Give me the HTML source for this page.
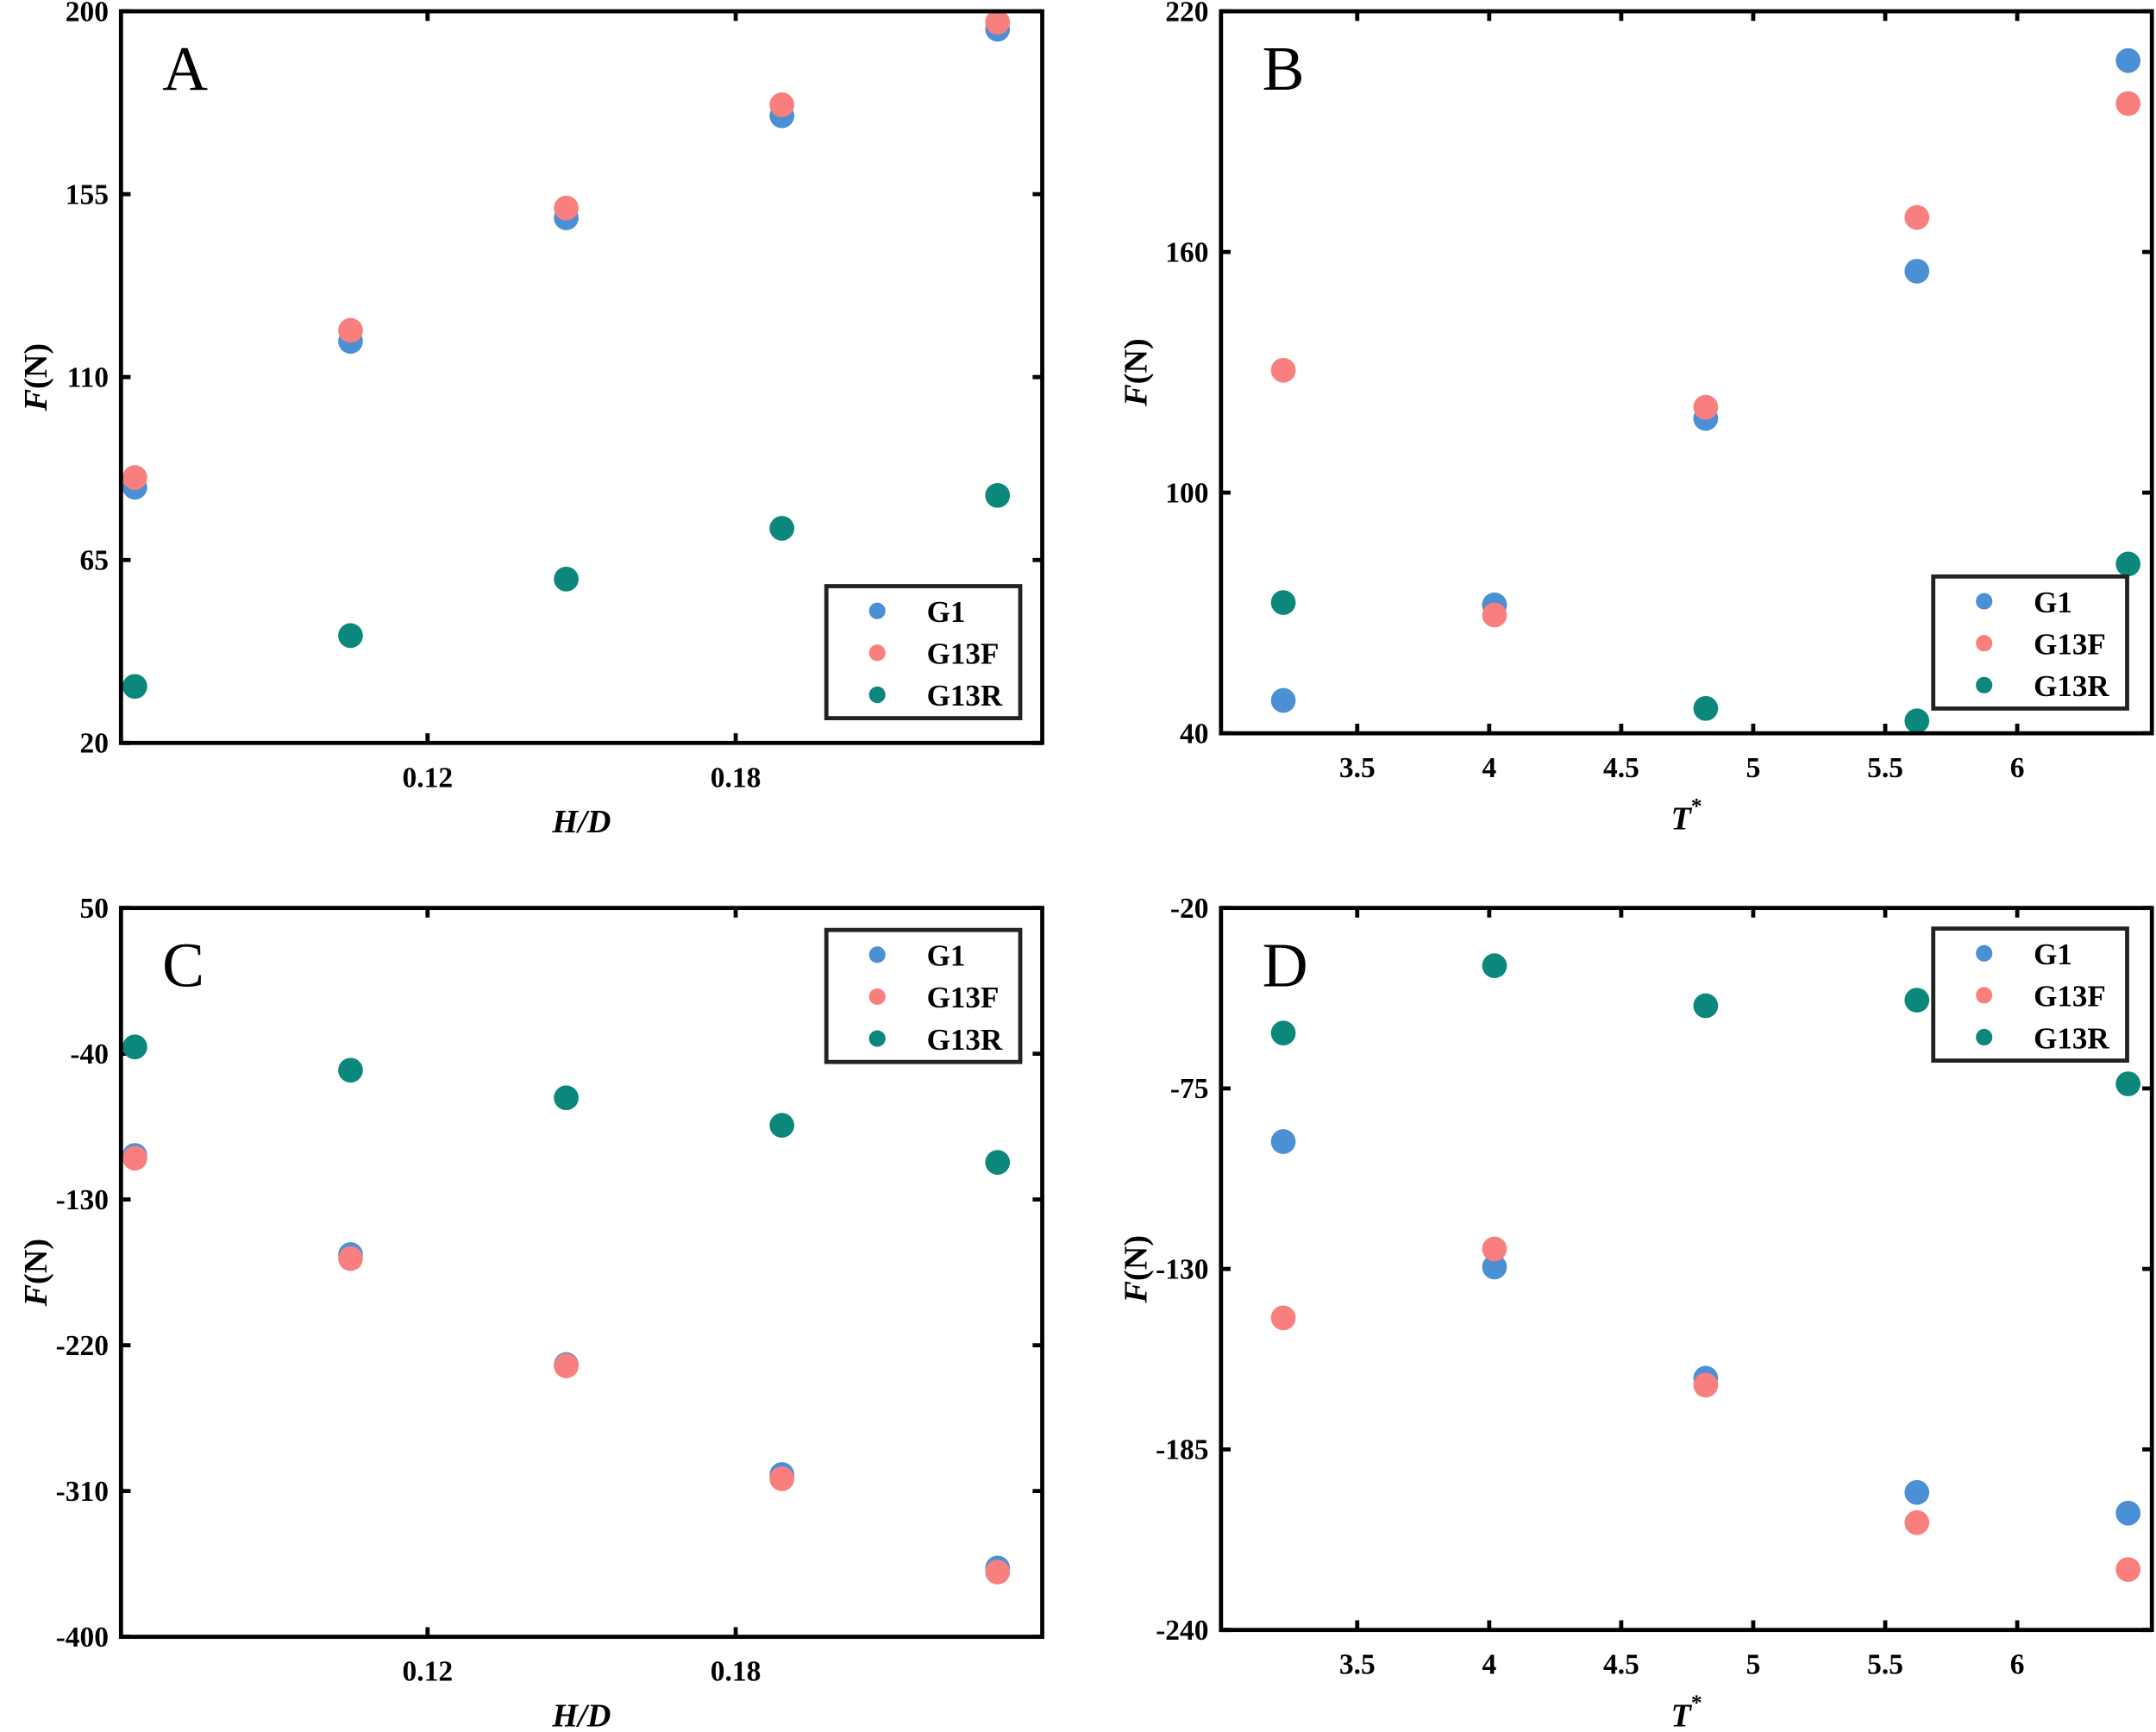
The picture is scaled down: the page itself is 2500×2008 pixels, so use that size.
<!DOCTYPE html>
<html><head><meta charset="utf-8"><style>
html,body{margin:0;padding:0;background:#fff;}
svg{display:block;font-family:"Liberation Serif",serif;}
</style></head><body>
<svg id="fig" width="2500" height="2008" viewBox="0 0 1568 1259" xmlns="http://www.w3.org/2000/svg"></svg>
<script>
// ---- data ----
const seriesNames = ["G1","G13F","G13R"];
const aX = [0.063,0.105,0.147,0.189,0.231];
const aG1 = [82.9,118.8,149.2,174.3,195.6];
const aG13F = [85.3,121.5,151.6,177.0,197.3];
const aG13R = [33.9,46.4,60.3,72.8,80.9];
const bX = [3.22,4.02,4.82,5.62,6.42];
const bG1 = [48.2,71.9,118.5,155.2,207.7];
const bG13F = [130.5,69.5,121.3,168.6,197.0];
const bG13R = [72.6,72.0,46.2,43.1,82.2];
const cX = [0.063,0.105,0.147,0.189,0.231];
const cG1 = [-102.8,-164.0,-231.9,-299.8,-357.5];
const cG13F = [-104.5,-166.5,-232.7,-302.4,-360.0];
const cG13R = [-35.8,-50.2,-67.2,-84.2,-107.1];
const dX = [3.22,4.02,4.82,5.62,6.42];
const dG1 = [-91.2,-129.4,-163.3,-198.1,-204.4];
const dG13F = [-144.9,-123.9,-165.4,-207.3,-221.6];
const dG13R = [-58.1,-37.6,-49.8,-48.1,-73.6];
const hdTicks = [0.12,0.18];
const hdTickLabels = ["0.12","0.18"];
const tTicks = [3.5,4,4.5,5,5.5,6];
const tTickLabels = ["3.5","4","4.5","5","5.5","6"];
const aYTicks = [20,65,110,155,200];
const bYTicks = [40,100,160,220];
const cYTicks = [-400,-310,-220,-130,-40,50];
const dYTicks = [-240,-185,-130,-75,-20];
const dYTickLabels = ["-240","-185","-130","-75","-20"];

const colors = {G1:"#4b8fd5",G13F:"#f87f7e",G13R:"#0b877c"};
const NS="http://www.w3.org/2000/svg";
const svg=document.getElementById('fig');
function mk(tag,attrs,parent){const e=document.createElementNS(NS,tag);for(const k in attrs)e.setAttribute(k,attrs[k]);(parent||svg).appendChild(e);return e;}

const panels=[
 {id:"a",letter:"A",box:[88,8,758,540],xd:[0.0603,0.2397],yd:[20,200],x:aX,s:{G1:aG1,G13F:aG13F,G13R:aG13R},xt:hdTicks,xtl:hdTickLabels,yt:aYTicks,ytl:aYTicks.map(String),xl:"hd",leg:[601,426]},
 {id:"b",letter:"B",box:[888,8,1565,533],xd:[2.984,6.51],yd:[40,220],x:bX,s:{G1:bG1,G13F:bG13F,G13R:bG13R},xt:tTicks,xtl:tTickLabels,yt:bYTicks,ytl:bYTicks.map(String),xl:"t",leg:[1406,419]},
 {id:"c",letter:"C",box:[88,660,758,1190],xd:[0.0603,0.2397],yd:[-400,50],x:cX,s:{G1:cG1,G13F:cG13F,G13R:cG13R},xt:hdTicks,xtl:hdTickLabels,yt:cYTicks,ytl:cYTicks.map(String),xl:"hd",leg:[601,676]},
 {id:"d",letter:"D",box:[888,660,1565,1185],xd:[2.984,6.51],yd:[-240,-20],x:dX,s:{G1:dG1,G13F:dG13F,G13R:dG13R},xt:tTicks,xtl:tTickLabels,yt:dYTicks,ytl:dYTickLabels,xl:"t",leg:[1406,675]}
];

panels.forEach(p=>{
  const [x0,y0,x1,y1]=p.box;
  const g=mk('g',{});
  
  
  const sx=v=>x0+(v-p.xd[0])/(p.xd[1]-p.xd[0])*(x1-x0);
  const sy=v=>y1-(v-p.yd[0])/(p.yd[1]-p.yd[0])*(y1-y0);
  p.xt.forEach((t,i)=>{
    const x=sx(t);
    const tk=mk('path',{d:`M${x},${y1}V${y1-7}M${x},${y0}V${y0+7}`,stroke:"#000","stroke-width":3},g);
    
    
    const tl=mk('text',{x:x,y:y1+32,"text-anchor":"middle","font-size":21,"font-weight":"bold"},g);
    tl.textContent=p.xtl[i];
    
    
  });
  p.yt.forEach((t,i)=>{
    const y=sy(t);
    const tk=mk('path',{d:`M${x0},${y}H${x0+7}M${x1},${y}H${x1-7}`,stroke:"#000","stroke-width":3},g);
    
    
    const tl=mk('text',{x:x0-9,y:y+7,"text-anchor":"end","font-size":21,"font-weight":"bold"},g);
    tl.textContent=p.ytl[i];
    
    
  });
  ["G13R","G1","G13F"].forEach(n=>{
    p.s[n].forEach((v,i)=>{
      const c=mk('circle',{cx:sx(p.x[i]),cy:sy(v),r:9,fill:colors[n]},g);
      
      
    });
  });
  const fr=mk('rect',{x:x0,y:y0,width:x1-x0,height:y1-y0,fill:"none",stroke:"#000","stroke-width":3},g);
  
  
  const lt=mk('text',{x:x0+30,y:y0+57,"font-size":46},g);
  lt.textContent=p.letter;
  
  
  const cy=(y0+y1)/2;
  const lx=x0-60;
  const yl=mk('text',{x:0,y:0,transform:`translate(${lx+6},${cy}) rotate(-90)`,"text-anchor":"middle","font-size":24,"font-weight":"bold"},g);
  yl.innerHTML='<tspan font-style="italic">F</tspan>(N)';
  
  
  const cx=(x0+x1)/2;
  const xl=mk('text',{x:cx,y:y1+(p.xl==="hd"?65:70),"text-anchor":"middle","font-size":24,"font-weight":"bold","font-style":"italic"},g);
  if(p.xl==="hd"){xl.textContent="H/D";}
  else{xl.innerHTML='T<tspan dy="-12" font-size="16" font-style="normal">*</tspan>';}
  
  
  const [lx0,ly0]=p.leg;
  const lg=mk('g',{},g);
  
  
  const lb=mk('rect',{x:lx0,y:ly0,width:141,height:96,fill:"#fff",stroke:"#222","stroke-width":3},lg);
  
  
  seriesNames.forEach((n,i)=>{
    const ry=ly0+18+i*30.5;
    const m=mk('circle',{cx:lx0+37,cy:ry,r:6,fill:colors[n]},lg);
    
    
    const t=mk('text',{x:lx0+73,y:ry+8,"font-size":22,"font-weight":"bold"},lg);
    t.textContent=n;
    
    
  });
});
</script>
</body></html>
